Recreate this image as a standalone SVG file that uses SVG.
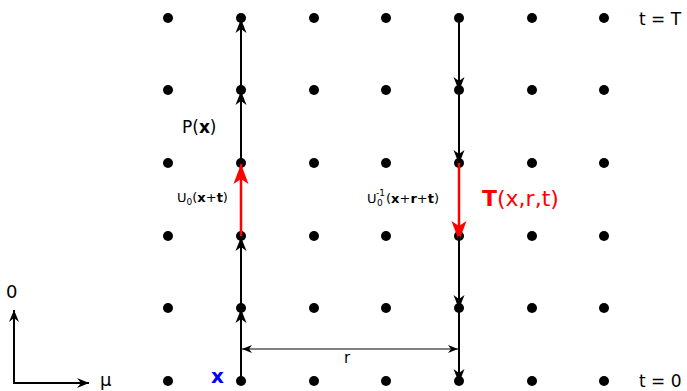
<svg xmlns="http://www.w3.org/2000/svg" width="687" height="391" viewBox="0 0 687 391">
<style>
text{font-family:"DejaVu Sans","Liberation Sans",sans-serif;fill:#000}
.dot{fill:#000}
.seg{stroke:#000;stroke-width:2;fill:none}
.red{stroke:#ff0000;stroke-width:2.5;fill:none}
.ax{stroke:#000;stroke-width:2;fill:none}
.dim{stroke:#000;stroke-width:1;fill:none}
</style>
<defs>
<marker id="ab" markerUnits="userSpaceOnUse" markerWidth="16" markerHeight="12" viewBox="-14 -6 15 12" refX="0" refY="0" orient="auto">
<path d="M1,0 L-13,-5.5 L-9,0 L-13,5.5 Z" fill="#000"/>
</marker>
<marker id="ar" markerUnits="userSpaceOnUse" markerWidth="22" markerHeight="18" viewBox="-21 -9 22 18" refX="0" refY="0" orient="auto">
<path d="M0,0 L-20,-7.5 L-15,0 L-20,7.5 Z" fill="#ff0000"/>
</marker>
<marker id="ad" markerUnits="userSpaceOnUse" markerWidth="12" markerHeight="10" viewBox="-11 -5 12 10" refX="0" refY="0" orient="auto-start-reverse">
<path d="M0,0 L-10,-4 L-7,0 L-10,4 Z" fill="#000"/>
</marker>
<marker id="aa" markerUnits="userSpaceOnUse" markerWidth="16" markerHeight="12" viewBox="-13 -6 14 12" refX="0" refY="0" orient="auto">
<path d="M0,0 L-12,-5 L-8,0 L-12,5 Z" fill="#000"/>
</marker>
</defs>

<g id="dots">
<g id="n0-0"><circle class="dot" cx="168" cy="18" r="5"/></g>
<g id="n1-0"><circle class="dot" cx="241" cy="18" r="5"/></g>
<g id="n2-0"><circle class="dot" cx="314" cy="18" r="5"/></g>
<g id="n3-0"><circle class="dot" cx="386" cy="18" r="5"/></g>
<g id="n4-0"><circle class="dot" cx="459" cy="18" r="5"/></g>
<g id="n5-0"><circle class="dot" cx="532" cy="18" r="5"/></g>
<g id="n6-0"><circle class="dot" cx="604" cy="18" r="5"/></g>
<g id="n0-1"><circle class="dot" cx="168" cy="90" r="5"/></g>
<g id="n1-1"><circle class="dot" cx="241" cy="90" r="5"/></g>
<g id="n2-1"><circle class="dot" cx="314" cy="90" r="5"/></g>
<g id="n3-1"><circle class="dot" cx="386" cy="90" r="5"/></g>
<g id="n4-1"><circle class="dot" cx="459" cy="90" r="5"/></g>
<g id="n5-1"><circle class="dot" cx="532" cy="90" r="5"/></g>
<g id="n6-1"><circle class="dot" cx="604" cy="90" r="5"/></g>
<g id="n0-2"><circle class="dot" cx="168" cy="163" r="5"/></g>
<g id="n1-2"><circle class="dot" cx="241" cy="163" r="5"/></g>
<g id="n2-2"><circle class="dot" cx="314" cy="163" r="5"/></g>
<g id="n3-2"><circle class="dot" cx="386" cy="163" r="5"/></g>
<g id="n4-2"><circle class="dot" cx="459" cy="163" r="5"/></g>
<g id="n5-2"><circle class="dot" cx="532" cy="163" r="5"/></g>
<g id="n6-2"><circle class="dot" cx="604" cy="163" r="5"/></g>
<g id="n0-3"><circle class="dot" cx="168" cy="236" r="5"/></g>
<g id="n1-3"><circle class="dot" cx="241" cy="236" r="5"/></g>
<g id="n2-3"><circle class="dot" cx="314" cy="236" r="5"/></g>
<g id="n3-3"><circle class="dot" cx="386" cy="236" r="5"/></g>
<g id="n4-3"><circle class="dot" cx="459" cy="236" r="5"/></g>
<g id="n5-3"><circle class="dot" cx="532" cy="236" r="5"/></g>
<g id="n6-3"><circle class="dot" cx="604" cy="236" r="5"/></g>
<g id="n0-4"><circle class="dot" cx="168" cy="308" r="5"/></g>
<g id="n1-4"><circle class="dot" cx="241" cy="308" r="5"/></g>
<g id="n2-4"><circle class="dot" cx="314" cy="308" r="5"/></g>
<g id="n3-4"><circle class="dot" cx="386" cy="308" r="5"/></g>
<g id="n4-4"><circle class="dot" cx="459" cy="308" r="5"/></g>
<g id="n5-4"><circle class="dot" cx="532" cy="308" r="5"/></g>
<g id="n6-4"><circle class="dot" cx="604" cy="308" r="5"/></g>
<g id="n0-5"><circle class="dot" cx="168" cy="381" r="5"/></g>
<g id="n1-5"><circle class="dot" cx="241" cy="381" r="5"/></g>
<g id="n2-5"><circle class="dot" cx="314" cy="381" r="5"/></g>
<g id="n3-5"><circle class="dot" cx="386" cy="381" r="5"/></g>
<g id="n4-5"><circle class="dot" cx="459" cy="381" r="5"/></g>
<g id="n5-5"><circle class="dot" cx="532" cy="381" r="5"/></g>
<g id="n6-5"><circle class="dot" cx="604" cy="381" r="5"/></g>
</g>

<g id="connectors">
<line class="seg" x1="241" y1="381" x2="241" y2="310" marker-end="url(#ab)"/>
<line class="seg" x1="241" y1="308" x2="241" y2="238" marker-end="url(#ab)"/>
<line class="red" x1="241" y1="236" x2="241" y2="164" marker-end="url(#ar)"/>
<line class="seg" x1="241" y1="163" x2="241" y2="92" marker-end="url(#ab)"/>
<line class="seg" x1="241" y1="90" x2="241" y2="20" marker-end="url(#ab)"/>
<line class="seg" x1="459" y1="18" x2="459" y2="90" marker-end="url(#ab)"/>
<line class="seg" x1="459" y1="90" x2="459" y2="163" marker-end="url(#ab)"/>
<line class="red" x1="459" y1="163" x2="459" y2="241" marker-end="url(#ar)"/>
<line class="seg" x1="459" y1="236" x2="459" y2="308" marker-end="url(#ab)"/>
<line class="seg" x1="459" y1="308" x2="459" y2="382" marker-end="url(#ab)"/>
<line class="dim" x1="242" y1="349" x2="458" y2="349" marker-start="url(#ad)" marker-end="url(#ad)"/>
<line class="ax" x1="14" y1="384" x2="14" y2="310" marker-end="url(#aa)"/>
<line class="ax" x1="13" y1="383" x2="89" y2="383" marker-end="url(#aa)"/>
</g>

<g id="labels">
<text x="182" y="133" font-size="17">P(<tspan font-weight="bold">x</tspan>)</text>
<text x="177" y="202" font-size="13">U<tspan font-size="9" dy="3">0</tspan><tspan dy="-3">(</tspan><tspan font-weight="bold">x</tspan>+<tspan font-weight="bold">t</tspan>)</text>
<text x="367" y="203" font-size="13">U</text>
<text x="377" y="206" font-size="9">0</text>
<text x="376" y="196" font-size="9">-1</text>
<text x="386" y="203" font-size="13">(<tspan font-weight="bold">x</tspan>+<tspan font-weight="bold">r</tspan>+<tspan font-weight="bold">t</tspan>)</text>
<text x="482" y="206" font-size="22" style="fill:#ff0000"><tspan font-weight="bold">T</tspan>(x,r,t)</text>
<text x="211" y="383" font-size="20" font-weight="bold" style="fill:#0000ff">x</text>
<text x="344" y="363" font-size="15">r</text>
<text x="639" y="25" font-size="17">t = T</text>
<text x="639" y="387" font-size="17">t = 0</text>
<text x="6" y="298" font-size="18">0</text>
<text x="100" y="386" font-size="18">μ</text>
</g>
</svg>
